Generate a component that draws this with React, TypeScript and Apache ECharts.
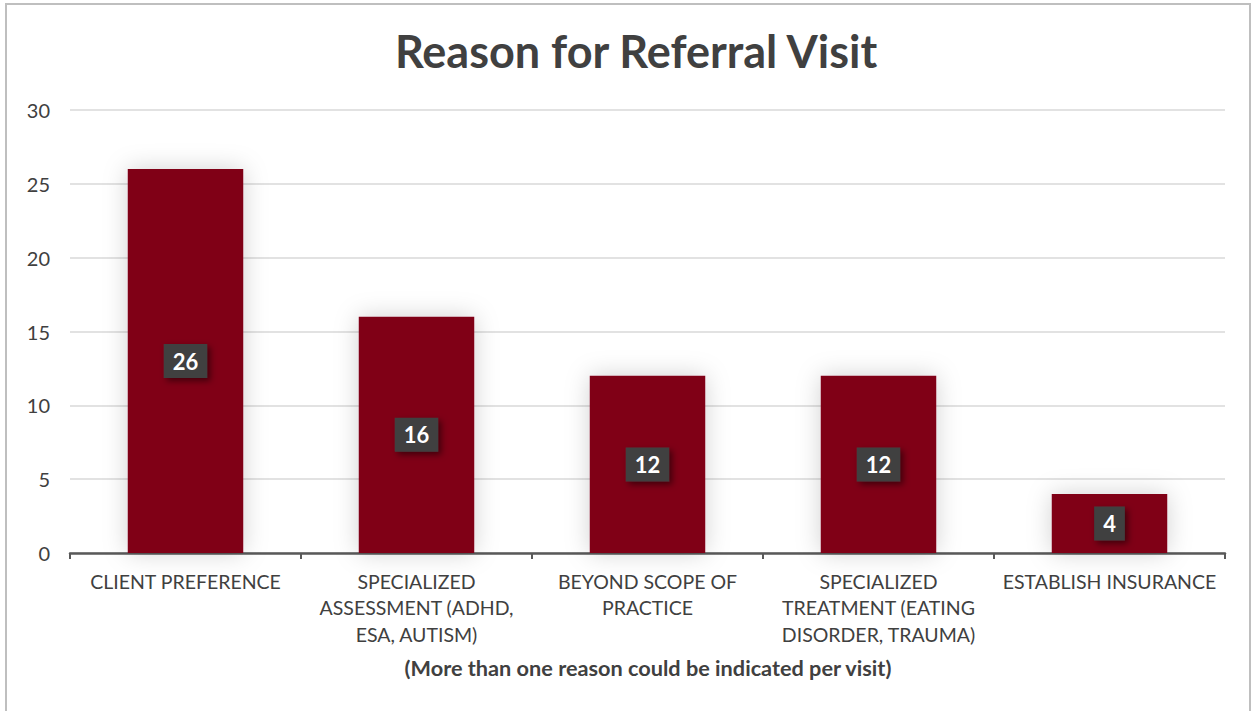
import React, { useEffect, useRef } from "react";
import * as echarts from "echarts";

const categories = [
  "CLIENT PREFERENCE",
  "SPECIALIZED\nASSESSMENT (ADHD,\nESA, AUTISM)",
  "BEYOND SCOPE OF\nPRACTICE",
  "SPECIALIZED\nTREATMENT (EATING\nDISORDER, TRAUMA)",
  "ESTABLISH INSURANCE",
];
const values = [26, 16, 12, 12, 4];
const titleText = "Reason for Referral Visit";
const noteText = "(More than one reason could be indicated per visit)";

const FONT = "Lato, 'Noto Sans', sans-serif";

export default function App() {
  const ref = useRef<HTMLDivElement>(null);
  useEffect(() => {
    if (!ref.current) return;
    const chart = echarts.init(ref.current, undefined, { renderer: "svg" });
    chart.setOption({
      animation: false,
      backgroundColor: "#ffffff",
      title: {
        text: titleText,
        left: 631,
        textAlign: "center",
        top: 23,
        textStyle: { fontFamily: FONT, fontSize: 45, fontWeight: "bold", color: "#404040" },
      },
      graphic: [
        {
          type: "rect",
          shape: { x: 6, y: 4, width: 1244, height: 720 },
          style: { fill: "none", stroke: "#bfbfbf", lineWidth: 2 },
          silent: true,
        },
        {
          type: "text",
          x: 648,
          y: 668,
          style: {
            text: noteText,
            fill: "#404040",
            font: `bold 21.7px ${FONT}`,
            textAlign: "center",
            textVerticalAlign: "middle",
          },
        },
      ],
      grid: { left: 70, right: 28, top: 110, bottom: 158, containLabel: false },
      xAxis: {
        type: "category",
        data: categories,
        axisLine: { lineStyle: { color: "#595959", width: 2.5 } },
        axisTick: { show: true, length: 6, lineStyle: { color: "#595959", width: 2 } },
        axisLabel: {
          color: "#404040",
          fontFamily: FONT,
          fontSize: 19.5,
          lineHeight: 26.5,
          margin: 15,
          interval: 0,
        },
      },
      yAxis: {
        type: "value",
        min: 0,
        max: 30,
        interval: 5,
        axisLine: { show: false },
        axisTick: { show: false },
        splitLine: { lineStyle: { color: "#d9d9d9", width: 1.5 } },
        axisLabel: { color: "#404040", fontFamily: FONT, fontSize: 20, margin: 20 },
      },
      series: [
        {
          type: "bar",
          data: values,
          barWidth: "50%",
          itemStyle: {
            color: "#800018",
            shadowBlur: 24,
            shadowColor: "rgba(0,0,0,0.18)",
          },
          label: {
            show: true,
            position: "inside",
            color: "#ffffff",
            fontFamily: FONT,
            fontWeight: "bold",
            fontSize: 22,
            backgroundColor: "#404040",
            padding: [7, 9, 5, 9],
            shadowBlur: 6,
            shadowColor: "rgba(0,0,0,0.5)",
            shadowOffsetX: 3,
            shadowOffsetY: 3,
          },
        },
      ],
    });
    return () => chart.dispose();
  }, []);
  return (
    <div
      ref={ref}
      style={{ position: "fixed", left: 0, top: 0, width: 1253, height: 711 }}
    />
  );
}
